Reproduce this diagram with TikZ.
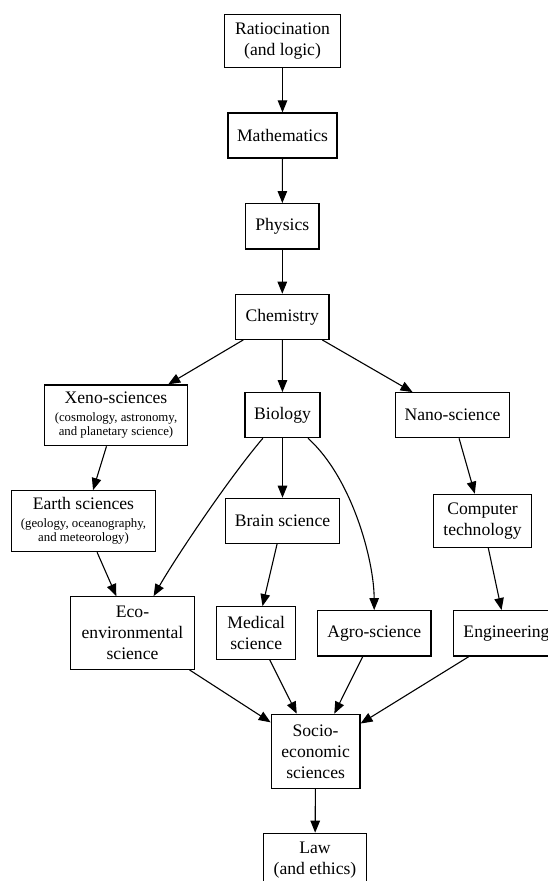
\documentclass[tikz,border=0pt]{standalone}
\usepackage{fontspec}
\setmainfont{Liberation Serif}
\usetikzlibrary{arrows.meta}
\begin{document}
\begin{tikzpicture}[x=1pt,y=-1pt,
  box/.style={draw, line width=1.2pt, inner sep=0pt, align=center, font=\fontsize{17.6}{21}\selectfont},
  smallbox/.style={box, font=\fontsize{12.8}{14.5}\selectfont},
  edge/.style={line width=1.1pt, -{Triangle[length=12pt,width=9.5pt]}}]
\fill[white] (0,0) rectangle (548,881);
\useasboundingbox (0,0) rectangle (548,881);
\clip (0,0) rectangle (548,881);
\node[box, minimum width=116.4pt, minimum height=53.4pt] (ratio) at (282.5,41) {Ratiocination\\(and logic)};
\node[box, minimum width=109pt, minimum height=45pt] (math) at (282.5,135.5) {Mathematics};
\node[box, minimum width=73.3pt, minimum height=45.3pt] (phys) at (282.3,226.3) {Physics};
\node[box, minimum width=93.3pt, minimum height=45pt] (chem) at (282.3,316.8) {Chemistry};
\node[smallbox, minimum width=143.4pt, minimum height=60.7pt] (xeno) at (116,415.3) {{\fontsize{17.6}{21}\selectfont Xeno-sciences}\\[3pt](cosmology, astronomy,\\and planetary science)};
\node[box, minimum width=75pt, minimum height=45pt] (bio) at (282.5,415.2) {Biology};
\node[box, minimum width=113.6pt, minimum height=45pt] (nano) at (452.5,415.2) {Nano-science};
\node[smallbox, minimum width=143.6pt, minimum height=61pt] (earth) at (83.5,521.2) {{\fontsize{17.6}{21}\selectfont Earth sciences}\\[3pt](geology, oceanography,\\and meteorology)};
\node[box, minimum width=113.6pt, minimum height=45pt] (brain) at (282.5,520.8) {Brain science};
\node[box, minimum width=98.4pt, minimum height=53pt] (comp) at (482.5,520.8) {Computer\\technology};
\node[box, minimum width=123.8pt, minimum height=72.6pt] (eco) at (132.5,633) {Eco-\\environmental\\science};
\node[box, minimum width=78.7pt, minimum height=52.6pt] (med) at (256.2,633) {Medical\\science};
\node[box, minimum width=113.5pt, minimum height=45.3pt] (agro) at (374.3,633.3) {Agro-science};
\node[box, minimum width=106pt, minimum height=45.3pt] (eng) at (506.5,633.3) {Engineering};
\node[box, minimum width=88.7pt, minimum height=74pt] (socio) at (315.6,751.3) {Socio-\\economic\\sciences};
\node[box, minimum width=103.7pt, minimum height=53pt] (law) at (315,859.8) {Law\\(and ethics)};
\draw[edge] (ratio) -- (math);
\draw[edge] (math) -- (phys);
\draw[edge] (phys) -- (chem);
\draw[edge] (chem) -- (xeno);
\draw[edge] (chem) -- (bio);
\draw[edge] (chem) -- (nano);
\draw[edge] (xeno) -- (earth);
\draw[edge] (bio) -- (brain);
\draw[edge] (nano) -- (comp);
\draw[edge] (earth) -- (eco);
\draw[edge] (bio) .. controls (229,478) and (176,557) .. (eco);
\draw[edge] (brain) -- (med);
\draw[edge] (bio) .. controls (352,478) and (374,560) .. (agro);
\draw[edge] (comp) -- (eng);
\draw[edge] (eco) -- (socio);
\draw[edge] (med) -- (socio);
\draw[edge] (agro) -- (socio);
\draw[edge] (eng) -- (socio);
\draw[edge] (socio) -- (law);
\end{tikzpicture}
\end{document}
